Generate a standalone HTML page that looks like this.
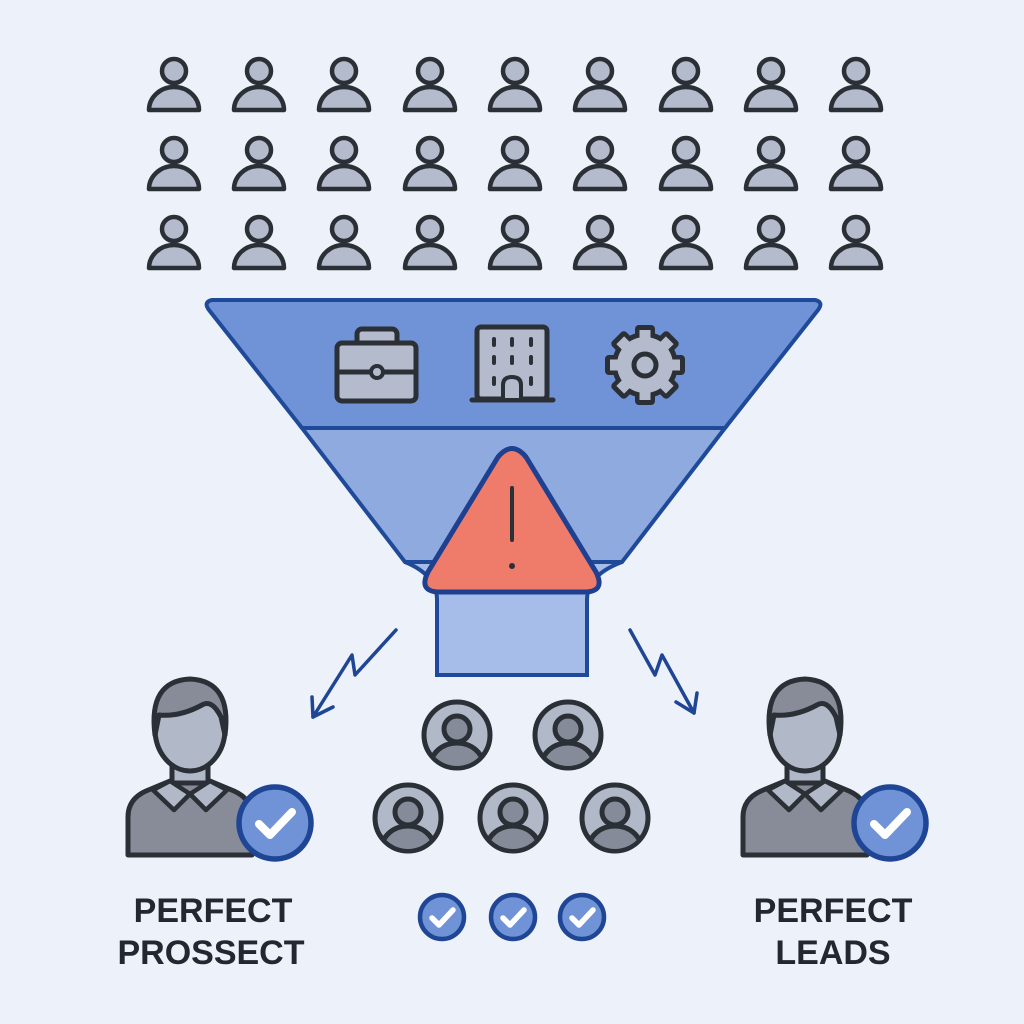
<!DOCTYPE html>
<html><head><meta charset="utf-8"><style>
html,body{margin:0;padding:0;background:#edf1fa;}
svg{display:block}
text{font-family:"Liberation Sans",sans-serif;font-weight:bold;fill:#23272e;}
</style></head><body>
<svg width="1024" height="1024" viewBox="0 0 1024 1024">
<defs>
<g id="p">
<circle cx="0" cy="-14" r="12" fill="#b4bbcc" stroke="#2b2f36" stroke-width="4.5"/>
<path d="M-25,25 A25,23 0 0 1 25,25 Z" fill="#b4bbcc" stroke="#2b2f36" stroke-width="4.5" stroke-linejoin="round"/>
</g>
<g id="av">
<circle r="33" fill="#b1b8c8" stroke="#2b2f36" stroke-width="5"/>
<clipPath id="cc"><circle r="31"/></clipPath>
<g clip-path="url(#cc)">
<path d="M-26,30 A26,22 0 0 1 26,30 L26,40 L-26,40Z" fill="#858b99" stroke="#2b2f36" stroke-width="5"/>
</g>
<circle cx="0" cy="-6" r="13" fill="#858b99" stroke="#2b2f36" stroke-width="5"/>
</g>
<g id="ck">
<circle r="22" fill="#6f93d6" stroke="#1f4595" stroke-width="4.5"/>
<path d="M-10,1 L-3,8 L11,-7" fill="none" stroke="#fff" stroke-width="5.5" stroke-linecap="round" stroke-linejoin="round"/>
</g>
<g id="bck">
<circle r="36" fill="#6f93d6" stroke="#1f4595" stroke-width="5.5"/>
<path d="M-16,1 L-5,12 L17,-11" fill="none" stroke="#fff" stroke-width="8" stroke-linecap="round" stroke-linejoin="round"/>
</g>
<g id="big">
<path d="M-62,78 L-62,40 Q-62,22 -44,14 L-20,4 L20,4 L44,14 Q62,22 62,40 L62,78 Z" fill="#878c98" stroke="#2b2f36" stroke-width="5" stroke-linejoin="round"/>
<path d="M-18,6 L-18,-12 L18,-12 L18,6 Z" fill="#b1b8c8" stroke="#2b2f36" stroke-width="5"/>
<path d="M-20,4 L-37,13 L-16,33 L0,17 L16,33 L37,13 L20,4 L0,17 Z" fill="#b1b8c8" stroke="#2b2f36" stroke-width="4.5" stroke-linejoin="round"/>
<ellipse cx="0" cy="-48" rx="35" ry="42" fill="#b1b8c8" stroke="#2b2f36" stroke-width="5"/>
<path d="M-35,-42 Q-42,-96 0,-98 Q42,-96 35,-42 L31,-60 Q22,-78 12,-72 Q-10,-60 -31,-62 Z" fill="#878c98" stroke="#2b2f36" stroke-width="5" stroke-linejoin="round"/>
</g>
</defs>

<g>
<use href="#p" x="174" y="85"/><use href="#p" x="259" y="85"/><use href="#p" x="344" y="85"/><use href="#p" x="430" y="85"/><use href="#p" x="515" y="85"/><use href="#p" x="600" y="85"/><use href="#p" x="686" y="85"/><use href="#p" x="771" y="85"/><use href="#p" x="856" y="85"/>
<use href="#p" x="174" y="164"/><use href="#p" x="259" y="164"/><use href="#p" x="344" y="164"/><use href="#p" x="430" y="164"/><use href="#p" x="515" y="164"/><use href="#p" x="600" y="164"/><use href="#p" x="686" y="164"/><use href="#p" x="771" y="164"/><use href="#p" x="856" y="164"/>
<use href="#p" x="174" y="243"/><use href="#p" x="259" y="243"/><use href="#p" x="344" y="243"/><use href="#p" x="430" y="243"/><use href="#p" x="515" y="243"/><use href="#p" x="600" y="243"/><use href="#p" x="686" y="243"/><use href="#p" x="771" y="243"/><use href="#p" x="856" y="243"/>
</g>

<path d="M437,590 L437,675 L587,675 L587,590 Z" fill="#a5bde8" stroke="#1f4a9a" stroke-width="4"/>
<path d="M405,562 Q437,575 437,600 L587,600 Q587,575 622,562 Z" fill="#a5bde8"/>
<path d="M302,428 L725,428 L622,562 L405,562 Z" fill="#8eaadf" stroke="#1f4a9a" stroke-width="4"/>
<path d="M212,300 L815,300 Q824,302 818,310 L725,428 L302,428 L209,310 Q203,302 212,300 Z" fill="#6f93d6" stroke="#1f4a9a" stroke-width="4" stroke-linejoin="round"/>
<path d="M405,562 Q437,575 437,600 M622,562 Q587,575 587,600" fill="none" stroke="#1f4a9a" stroke-width="4"/>

<rect x="357" y="329" width="40" height="20" rx="5" fill="#b4bbcc" stroke="#2b2f36" stroke-width="5"/>
<rect x="337" y="343" width="79" height="58" rx="5" fill="#b4bbcc" stroke="#2b2f36" stroke-width="5"/>
<line x1="337" y1="372" x2="416" y2="372" stroke="#2b2f36" stroke-width="5"/>
<circle cx="377" cy="372" r="6" fill="#b4bbcc" stroke="#2b2f36" stroke-width="4"/>
<rect x="477" y="327" width="70" height="72" rx="4" fill="#b4bbcc" stroke="#2b2f36" stroke-width="5"/>
<line x1="472" y1="400" x2="553" y2="400" stroke="#2b2f36" stroke-width="5" stroke-linecap="round"/>
<g stroke="#2b2f36" stroke-width="4" stroke-linecap="round">
<line x1="494" y1="339" x2="494" y2="345"/><line x1="512" y1="339" x2="512" y2="345"/><line x1="531" y1="339" x2="531" y2="345"/>
<line x1="494" y1="357" x2="494" y2="363"/><line x1="512" y1="357" x2="512" y2="363"/><line x1="531" y1="357" x2="531" y2="363"/>
<line x1="494" y1="378" x2="494" y2="384"/><line x1="531" y1="378" x2="531" y2="384"/>
</g>
<path d="M503,398 L503,385 Q503,377 512,377 Q521,377 521,385 L521,398" fill="#b4bbcc" stroke="#2b2f36" stroke-width="4"/>
<g transform="translate(645,365)">
<g fill="#2b2f36">
<circle r="33"/>
<rect x="-10" y="-40" width="20" height="80" rx="4"/>
<rect x="-10" y="-40" width="20" height="80" rx="4" transform="rotate(45)"/>
<rect x="-10" y="-40" width="20" height="80" rx="4" transform="rotate(90)"/>
<rect x="-10" y="-40" width="20" height="80" rx="4" transform="rotate(135)"/>
</g>
<g fill="#b4bbcc">
<circle r="28"/>
<rect x="-5.5" y="-35" width="11" height="70" transform="rotate(0)"/>
<rect x="-5.5" y="-35" width="11" height="70" transform="rotate(45)"/>
<rect x="-5.5" y="-35" width="11" height="70" transform="rotate(90)"/>
<rect x="-5.5" y="-35" width="11" height="70" transform="rotate(135)"/>
</g>
<circle r="11" fill="#b4bbcc" stroke="#2b2f36" stroke-width="5"/>
</g>

<path d="M498,457 Q512,440 526,457 L596,572 Q606,592 584,592 L440,592 Q418,592 428,572 Z" fill="#ef7b6b" stroke="#1f3f8f" stroke-width="5" stroke-linejoin="round"/>
<line x1="512" y1="488" x2="512" y2="540" stroke="#2b2f36" stroke-width="4" stroke-linecap="round"/>
<circle cx="512" cy="566" r="3" fill="#2b2f36"/>

<g fill="none" stroke="#1f4595" stroke-width="3.5" stroke-linecap="round" stroke-linejoin="round">
<path d="M396,630 L355,675 L352,655 L313,717"/>
<path d="M313,717 L333,707 M313,717 L312,697"/>
<path d="M630,630 L655,675 L662,655 L694,713"/>
<path d="M694,713 L676,702 M694,713 L697,693"/>
</g>

<use href="#big" x="190" y="777"/>
<use href="#bck" x="275" y="823"/>
<use href="#big" x="805" y="777"/>
<use href="#bck" x="890" y="823"/>

<use href="#av" x="457" y="735"/><use href="#av" x="568" y="735"/>
<use href="#av" x="408" y="818"/><use href="#av" x="513" y="818"/><use href="#av" x="615" y="818"/>

<use href="#ck" x="442" y="917"/><use href="#ck" x="513" y="917"/><use href="#ck" x="582" y="917"/>

<g font-size="34" text-anchor="middle">
<text x="213" y="922">PERFECT</text>
<text x="211" y="964">PROSSECT</text>
<text x="833" y="922">PERFECT</text>
<text x="833" y="964">LEADS</text>
</g>
</svg>
</body></html>
